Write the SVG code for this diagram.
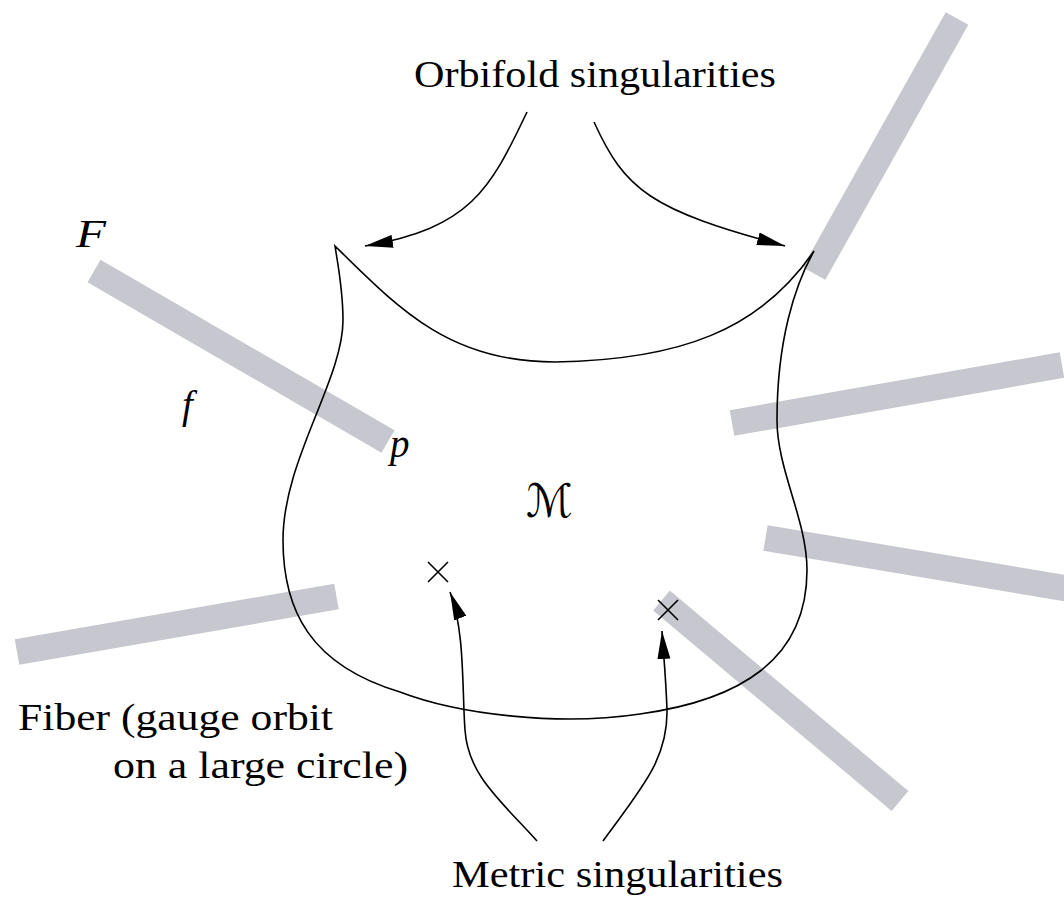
<svg xmlns="http://www.w3.org/2000/svg" width="1064" height="900" viewBox="0 0 1064 900">
<style>
.bar{stroke:#c7c8cf;stroke-width:26;stroke-linecap:butt;fill:none}
.ln{stroke:#000;stroke-width:1.6;fill:none}
.t{font-family:"Liberation Serif","Times New Roman",serif;font-size:37px;fill:#000}
.it{font-family:"Liberation Serif","Times New Roman",serif;font-size:39px;font-style:italic;fill:#000}
</style>
<defs>
<marker id="ah" viewBox="-28 -7 28 14" markerWidth="28" markerHeight="14" refX="0" refY="0" orient="auto" markerUnits="userSpaceOnUse">
<path d="M0,0 L-28,-6.5 L-28,6.5 Z" fill="#000"/>
</marker>
</defs>
<g id="fibers">
<line class="bar" x1="957" y1="18.5" x2="814" y2="273.5"/>
<line class="bar" x1="94" y1="271" x2="388" y2="441.5"/>
<line class="bar" x1="732" y1="423" x2="1062" y2="365"/>
<line class="bar" x1="765.5" y1="538" x2="1070" y2="589"/>
<line class="bar" x1="661.5" y1="600.5" x2="900" y2="801"/>
<line class="bar" x1="17" y1="652" x2="336.5" y2="596.5"/>
</g>
<g id="manifold">
<path class="ln" d="M335,246 C400,310 450,362 555,362 C680,360 760,330 814,251 C795,285 777,340 777,420 C777,470 807,520 807,570 C807,660 740,700 640,714 C560,726 460,715 400,692 C310,665 283,610 283,540 C283,460 343,380 343,320 C343,290 338,265 335,246 Z"/>
</g>
<g id="singular-marks">
<path class="ln" d="M428,562 L448,582 M448,562 L428,582"/>
<path class="ln" d="M658,600 L678,620 M678,600 L658,620"/>
</g>
<g id="connectors">
<path class="ln" d="M527,112 C490,190 470,228 365,246" marker-end="url(#ah)"/>
<path class="ln" d="M594,122 C625,190 650,210 785,246" marker-end="url(#ah)"/>
<path class="ln" d="M537,841 C500,800 468,775 465,730 C462,690 465,630 450,592" marker-end="url(#ah)"/>
<path class="ln" d="M603,841 C640,790 668,760 667,710 C666,680 664,660 662,631" marker-end="url(#ah)"/>
</g>
<g id="labels">
<text class="t" x="414" y="87" textLength="362" lengthAdjust="spacingAndGlyphs">Orbifold singularities</text>
<text class="t" x="452" y="887" textLength="331" lengthAdjust="spacingAndGlyphs">Metric singularities</text>
<text class="t" x="18" y="730" textLength="315" lengthAdjust="spacingAndGlyphs">Fiber (gauge orbit</text>
<text class="t" x="113" y="778" textLength="295" lengthAdjust="spacingAndGlyphs">on a large circle)</text>
<text class="it" x="76" y="247" textLength="30" lengthAdjust="spacingAndGlyphs">F</text>
<text class="it" x="182" y="418">f</text>
<text class="it" x="390" y="457">p</text>
<text x="526" y="517" textLength="47" lengthAdjust="spacingAndGlyphs" style="font-family:'DejaVu Serif','DejaVu Sans',serif;font-size:46px;fill:#000">ℳ</text>
</g>
</svg>
